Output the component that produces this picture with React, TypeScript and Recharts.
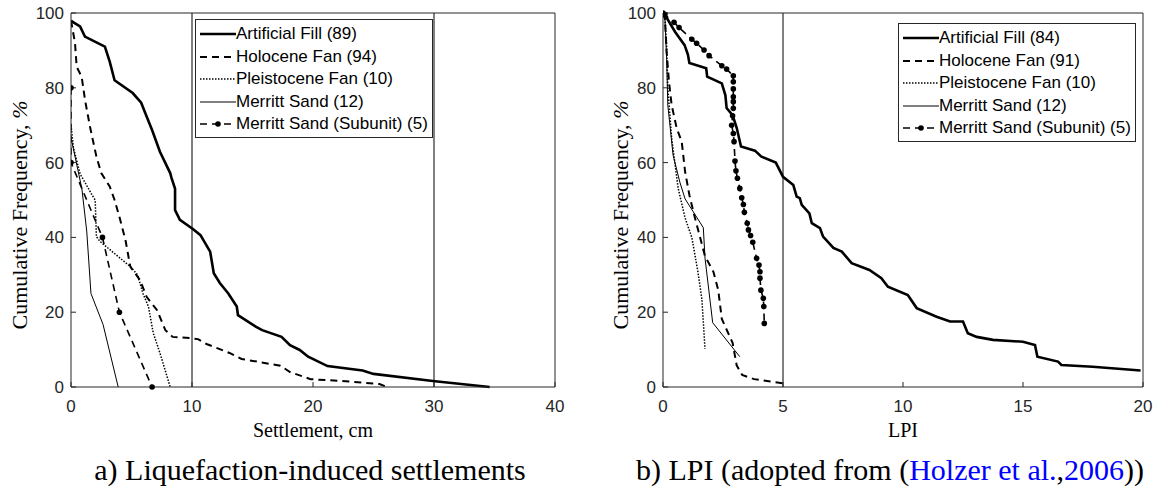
import React from "react";
import { LineChart, Line, XAxis, YAxis, ReferenceLine, Legend } from "recharts";

type Pt = [number, number];

// cumulative frequency (%) vs liquefaction-induced settlement (cm)
const settleFill: Pt[] = [
  [0, 98], [0.1, 97.7], [0.75, 96.4], [1.15, 93.7], [2.8, 91], [3.2, 87], [3.6, 82],
  [5.1, 78.6], [5.8, 76], [6.25, 72.3], [6.7, 68.7], [7.35, 62.9], [8.2, 57.2], [8.3, 56],
  [8.6, 53], [8.6, 47.3], [9.0, 44.7], [10.1, 42.2], [10.7, 40.6], [11.5, 36.2], [11.8, 30.4],
  [12.3, 27.8], [13, 25], [13.7, 21.5], [13.8, 19.2], [15.3, 16.1], [15.8, 15.2], [17.4, 13.4],
  [18.1, 11.2], [18.9, 9.9], [19.6, 8.1], [21.2, 5.6], [24.1, 4.4], [25, 3.5], [29.9, 1.6], [34.6, 0],
];
const settleHolocene: Pt[] = [
  [0, 98], [0.33, 92], [0.47, 85.6], [0.88, 83], [1.16, 76.7], [1.57, 69.6], [2.1, 61.6],
  [2.5, 57.2], [3.2, 53.6], [3.6, 50], [4.0, 45.5], [4.5, 39.3], [4.9, 32.2], [5.7, 28.6],
  [6.25, 24.1], [7.1, 20.6], [7.8, 15.2], [8.4, 13.4], [9.8, 13.1], [10.5, 12.8], [11.2, 11.5],
  [13.1, 9.1], [14.1, 7.5], [17.3, 5.7], [18.1, 4.0], [19.8, 2.1], [23.3, 1.4], [25.5, 0.8], [26.1, 0],
];
const settlePleistocene: Pt[] = [
  [0, 70], [0.2, 64], [0.75, 57], [1.8, 51], [2.0, 50], [2.1, 40.2], [2.4, 38.9], [4.9, 32.2],
  [5.5, 30], [5.95, 25], [6.4, 21.5], [6.8, 14.4], [7.35, 9.1], [8.2, 0],
];
const settleMerritt: Pt[] = [
  [0, 66.7], [0.9, 53], [1.3, 41.7], [1.65, 25], [2.65, 16.7], [3.9, 0],
];
const settleSubunit: Pt[] = [
  [0, 80], [0, 60], [2.6, 40], [4.0, 20], [6.7, 0],
];

// cumulative frequency (%) vs LPI
const lpiFill: Pt[] = [
  [0, 100], [0.08, 99.5], [0.5, 95], [0.9, 91.4], [1.04, 88.8], [1.1, 86.6], [1.8, 85.2],
  [1.84, 83], [2.45, 81.2], [2.6, 78], [2.65, 74.6], [2.9, 72.7], [3.07, 69.3], [3.25, 64.3],
  [3.83, 63.2], [4.1, 61.6], [4.7, 60], [5.0, 56.2], [5.43, 54], [5.57, 50.9], [5.7, 50.5],
  [5.78, 48.7], [6.1, 46.4], [6.2, 43.8], [6.54, 42.5], [6.67, 40.2], [7.1, 37.2], [7.45, 36.2],
  [7.86, 33.1], [8.6, 31.3], [9.1, 29.1], [9.37, 26.8], [10.2, 24.6], [10.57, 21.1], [11.4, 18.8],
  [11.96, 17.5], [12.5, 17.5], [12.7, 14.4], [13.07, 13.4], [13.75, 12.6], [15.0, 12.1],
  [15.5, 11.2], [15.6, 8.1], [16.46, 6.8], [16.6, 5.9], [17.9, 5.4], [19.9, 4.4],
];
const lpiHolocene: Pt[] = [
  [0, 100], [0.08, 98.6], [0.15, 89.7], [0.25, 81.6], [0.36, 75.4], [0.57, 69.2], [0.78, 65.6],
  [0.92, 57.6], [1.1, 51.3], [1.3, 46], [1.75, 35], [2.1, 30.8], [2.3, 26], [2.45, 18.2],
  [2.9, 11.8], [3.07, 5.8], [3.3, 3.2], [3.8, 2.1], [5.0, 1.0],
];
const lpiPleistocene: Pt[] = [
  [0, 100], [0.08, 98.6], [0.15, 91.4], [0.2, 80], [0.36, 66.6], [0.63, 53.2], [0.92, 45.2],
  [1.2, 40], [1.45, 31], [1.62, 23.5], [1.75, 10.2],
];
const lpiMerritt: Pt[] = [
  [0, 100], [0.08, 98.6], [0.15, 88], [0.2, 75.4], [0.42, 62], [0.7, 54.8], [0.92, 50.3],
  [1.68, 42.6], [1.75, 34.5], [2.07, 17.2], [3.2, 8.1],
];
const lpiSubunit: Pt[] = [
  [0, 100], [0.08, 99.5], [0.46, 97.5], [0.67, 96.1], [1.2, 93], [1.4, 91.9], [1.71, 90.1],
  [1.92, 88.6], [2.45, 85.9], [2.65, 85], [2.93, 83.2], [2.93, 81.6], [2.93, 79.7], [2.93, 77.6],
  [2.93, 76.3], [2.93, 74.5], [2.9, 72.5], [2.86, 70], [2.93, 67.8], [2.96, 65.6], [3.0, 60.4],
  [3.04, 57.8], [3.1, 55.8], [3.2, 53.1], [3.28, 50.6], [3.35, 48.8], [3.39, 46.7], [3.51, 43.8],
  [3.56, 42], [3.65, 40.5], [3.74, 38.7], [3.9, 34.4], [4.0, 32.6], [4.04, 30.8], [4.04, 29.1],
  [4.08, 25.9], [4.18, 23.7], [4.2, 21.5], [4.22, 17.0],
];

const settleNames = [
  "Artificial Fill (89)", "Holocene Fan (94)", "Pleistocene Fan (10)",
  "Merritt Sand (12)", "Merritt Sand (Subunit) (5)",
];
const lpiNames = [
  "Artificial Fill (84)", "Holocene Fan (91)", "Pleistocene Fan (10)",
  "Merritt Sand (12)", "Merritt Sand (Subunit) (5)",
];

const settleTicks = [0, 10, 20, 30, 40];
const lpiTicks = [0, 5, 10, 15, 20];
const freqTicks = [0, 20, 40, 60, 80, 100];

const SANS = "'Liberation Sans', Arial, Helvetica, sans-serif";
const SERIF = "'Liberation Serif', 'Times New Roman', serif";
const AXIS = "#262626";

type UnitStyle = { width: number; dash?: string; dots?: boolean };

// one style per geologic unit, same order as the name lists
const unitStyles: UnitStyle[] = [
  { width: 2.6 },
  { width: 2, dash: "7 5" },
  { width: 1.5, dash: "1.5 1.5" },
  { width: 1 },
  { width: 1.6, dash: "7 5", dots: true },
];

const toPts = (arr: Pt[]) => arr.map(([x, y]) => ({ x, y }));

function UnitLegend({ payload, names }: any) {
  const items = [...(payload ?? [])].sort(
    (a: any, b: any) => names.indexOf(a.value) - names.indexOf(b.value)
  );
  return (
    <div
      style={{
        border: `1px solid ${AXIS}`,
        background: "#fff",
        padding: "3px 4px 1px 4px",
        fontFamily: SANS,
        fontSize: 17,
        lineHeight: "22.5px",
        color: "#000",
      }}
    >
      {items.map((item: any) => {
        const st = unitStyles[names.indexOf(item.value)];
        return (
          <div key={item.value} style={{ display: "flex", alignItems: "center", whiteSpace: "nowrap" }}>
            <svg width={36} height={10} style={{ flex: "none" }}>
              <line x1={0} x2={36} y1={5} y2={5} stroke="#000" strokeWidth={st.width} strokeDasharray={st.dash} />
              {st.dots ? <circle cx={18} cy={5} r={2.8} fill="#000" /> : null}
            </svg>
            <span>{item.value}</span>
          </div>
        );
      })}
    </div>
  );
}

type PanelProps = {
  names: string[];
  series: Pt[][];
  xTicks: number[];
  xMax: number;
  refX: number[];
  xLabel: string;
  marginLeft: number;
  marginRight: number;
  legendPos: { left: number; top: number };
};

function FreqPanel({ names, series, xTicks, xMax, refX, xLabel, marginLeft, marginRight, legendPos }: PanelProps) {
  const tickFont = { fill: AXIS, fontSize: 17, fontFamily: SANS };
  return (
    <LineChart width={580} height={445} margin={{ top: 12, right: marginRight, bottom: 0, left: marginLeft }}>
      <XAxis
        type="number"
        dataKey="x"
        domain={[0, xMax]}
        ticks={xTicks}
        interval={0}
        tickSize={-5}
        tickMargin={18}
        stroke={AXIS}
        tick={tickFont}
        height={58}
        allowDataOverflow
        label={{
          value: xLabel,
          position: "insideBottom",
          offset: 8,
          style: { fontFamily: SERIF, fontSize: 20, fill: "#000" },
        }}
      />
      <XAxis
        xAxisId="top"
        orientation="top"
        type="number"
        domain={[0, xMax]}
        ticks={xTicks}
        interval={0}
        tick={false}
        tickSize={-5}
        height={1}
        stroke={AXIS}
      />
      <YAxis
        type="number"
        domain={[0, 100]}
        ticks={freqTicks}
        interval={0}
        tickSize={-5}
        tickMargin={12}
        width={40}
        stroke={AXIS}
        tick={tickFont}
      />
      <YAxis
        yAxisId="right"
        orientation="right"
        type="number"
        domain={[0, 100]}
        ticks={freqTicks}
        interval={0}
        tick={false}
        tickSize={-5}
        width={1}
        stroke={AXIS}
      />
      {refX.map((x) => (
        <ReferenceLine key={x} x={x} stroke="#000" strokeWidth={1} />
      ))}
      {series.map((pts, i) => {
        const st = unitStyles[i];
        return (
          <Line
            key={names[i]}
            data={toPts(pts)}
            dataKey="y"
            name={names[i]}
            type="linear"
            stroke="#000"
            strokeWidth={st.width}
            strokeDasharray={st.dash}
            dot={st.dots ? { r: 2.8, fill: "#000", stroke: "none" } : false}
            activeDot={false}
            legendType="line"
            isAnimationActive={false}
          />
        );
      })}
      <Legend
        layout="vertical"
        align="center"
        verticalAlign="middle"
        wrapperStyle={{ left: legendPos.left, top: legendPos.top, width: "auto" }}
        content={(props: any) => <UnitLegend payload={props.payload} names={names} />}
      />
    </LineChart>
  );
}

function YTitle({ cx }: { cx: number }) {
  return (
    <div
      style={{
        position: "absolute",
        left: cx,
        top: 215,
        transform: "translate(-50%, -50%) rotate(-90deg)",
        whiteSpace: "nowrap",
        fontFamily: SERIF,
        fontSize: 22,
        color: "#000",
      }}
    >
      Cumulative Frequency, <i>%</i>
    </div>
  );
}

export default function App() {
  const caption = { position: "absolute" as const, top: 452, fontFamily: SERIF, fontSize: 30, lineHeight: "36px", textAlign: "center" as const, color: "#000", whiteSpace: "nowrap" as const };
  return (
    <div style={{ position: "absolute", left: 0, top: 0, width: 1160, height: 496, background: "#fff" }}>
      <div style={{ position: "absolute", left: 0, top: 0 }}>
        <FreqPanel
          names={settleNames}
          series={[settleFill, settleHolocene, settlePleistocene, settleMerritt, settleSubunit]}
          xTicks={settleTicks}
          xMax={40}
          refX={[10, 30]}
          xLabel="Settlement, cm"
          marginLeft={31}
          marginRight={24}
          legendPos={{ left: 195, top: 19 }}
        />
      </div>
      <div style={{ position: "absolute", left: 590, top: 0 }}>
        <FreqPanel
          names={lpiNames}
          series={[lpiFill, lpiHolocene, lpiPleistocene, lpiMerritt, lpiSubunit]}
          xTicks={lpiTicks}
          xMax={20}
          refX={[5]}
          xLabel="LPI"
          marginLeft={33}
          marginRight={26}
          legendPos={{ left: 308, top: 23 }}
        />
      </div>
      <YTitle cx={20} />
      <YTitle cx={621} />
      <div style={{ ...caption, left: 0, width: 620 }}>a) Liquefaction-induced settlements</div>
      <div style={{ ...caption, left: 620, width: 540 }}>
        b) LPI (adopted from (<span style={{ color: "#0000ff" }}>Holzer et al.</span>,<span style={{ color: "#0000ff" }}>2006</span>))
      </div>
    </div>
  );
}
